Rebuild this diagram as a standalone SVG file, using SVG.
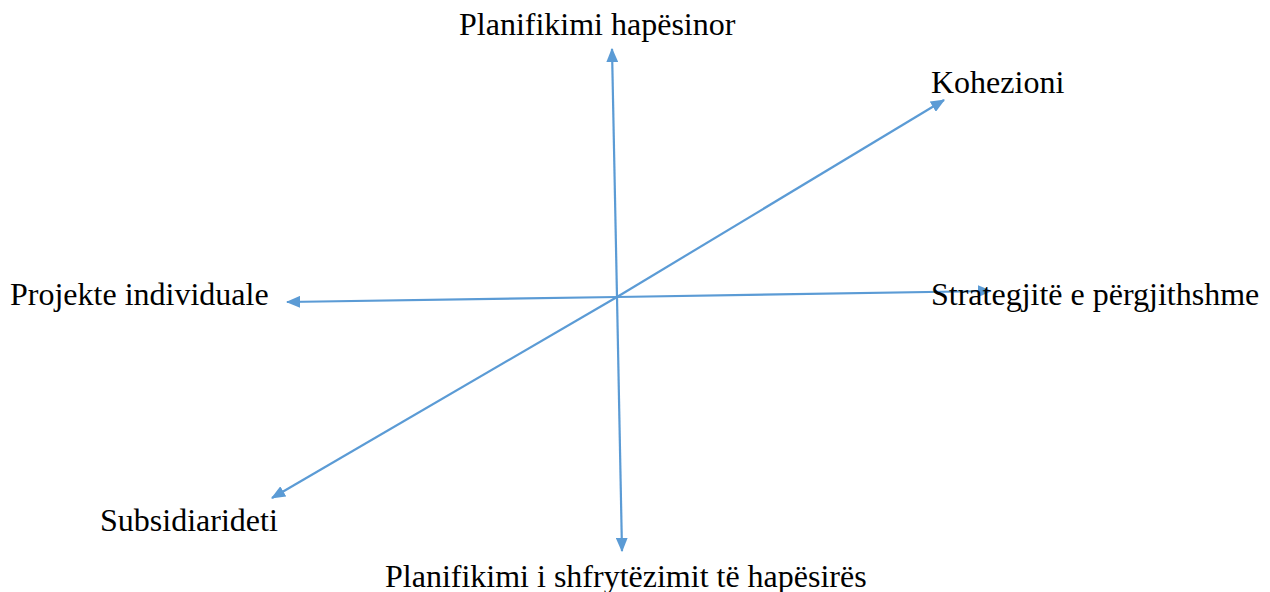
<svg xmlns="http://www.w3.org/2000/svg" width="1270" height="592" viewBox="0 0 1270 592">
<style>
.lbl{font-family:"Liberation Serif","Times New Roman",serif;font-size:32px;fill:#000}
.ax{stroke:#5B9BD5;stroke-width:2.2;fill:none;marker-end:url(#ah)}
</style>
<defs>
<marker id="ah" viewBox="0 0 12 10" refX="11" refY="5" markerWidth="6.5" markerHeight="5.4" orient="auto" markerUnits="strokeWidth">
<path d="M0,0 L12,5 L0,10 Z" fill="#5B9BD5"/>
</marker>
</defs>
<rect width="1270" height="592" fill="#fff"/>
<g id="connectors">
<line class="ax" x1="617" y1="297" x2="612" y2="49"/>
<line class="ax" x1="617" y1="297" x2="622" y2="551"/>
<line class="ax" x1="617" y1="297" x2="944" y2="100"/>
<line class="ax" x1="617" y1="297" x2="272" y2="498"/>
<line class="ax" x1="617" y1="297" x2="287" y2="302"/>
<line class="ax" x1="617" y1="297" x2="991" y2="291"/>
</g>
<g id="n-planifikimi-hapesinor"><text class="lbl" x="459" y="35">Planifikimi hapësinor</text></g>
<g id="n-kohezioni"><text class="lbl" x="931" y="93">Kohezioni</text></g>
<g id="n-projekte"><text class="lbl" x="10" y="305">Projekte individuale</text></g>
<g id="n-strategjite"><text class="lbl" x="931" y="305">Strategjitë e përgjithshme</text></g>
<g id="n-subsidiarideti"><text class="lbl" x="100" y="531">Subsidiarideti</text></g>
<g id="n-shfrytezimi"><text class="lbl" x="385" y="587">Planifikimi i shfrytëzimit të hapësirës</text></g>
</svg>
